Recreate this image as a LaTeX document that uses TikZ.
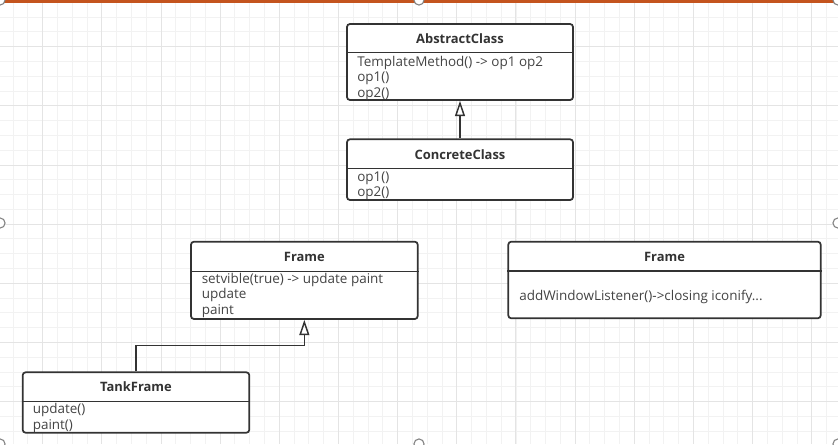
\documentclass[tikz,border=0pt]{standalone}
\usepackage{fontspec}
\setmainfont{Open Sans}
\usetikzlibrary{arrows.meta, fit, calc}

\definecolor{boxcol}{HTML}{333333}
\definecolor{opscol}{HTML}{444444}
\definecolor{gridminor}{HTML}{F2F2F2}
\definecolor{gridmajor}{HTML}{E4E4E4}
\definecolor{selcol}{RGB}{196,84,30}

\tikzset{
  classbox/.style={draw=boxcol, line width=1.3pt, rounded corners=2.2pt, fill=white, inner sep=0pt},
  divider/.style={draw=boxcol, line width=1.1pt},
  classname/.style={font=\bfseries\fontsize{9.7}{11}\selectfont, text=boxcol, inner sep=0pt, anchor=base},
  classops/.style={font=\fontsize{10.1}{11.6}\selectfont, text=opscol, inner sep=0pt, anchor=base west, align=left},
  inherit/.style={draw=boxcol, line width=1.1pt, -{Triangle[open, length=11.5pt, width=7.5pt]}},
  handle/.style={draw=gray, fill=white, line width=0.8pt},
}

\begin{document}
\begin{tikzpicture}[x=0.75pt, y=-0.75pt]
    \useasboundingbox (0,0) rectangle (838,444);
    % background grid
    \foreach \i in {0,...,56} \draw[gridminor, line width=0.7pt] ({13.1+14.79*\i},0) -- ({13.1+14.79*\i},444);
    \foreach \i in {0,...,30} \draw[gridminor, line width=0.7pt] (0,{2.3+14.79*\i}) -- (838,{2.3+14.79*\i});
    \foreach \i in {0,...,13} \draw[gridmajor, line width=0.7pt] ({42.7+59.15*\i},0) -- ({42.7+59.15*\i},444);
    \foreach \i in {0,...,7} \draw[gridmajor, line width=0.7pt] (0,{46.7+59.15*\i}) -- (838,{46.7+59.15*\i});
    \fill[selcol] (0,0) rectangle (838,3);

    % template method classes (ops nodes sit on the baseline of their last line)
    \node[classbox, fit={(347,24) (573,100)}] (abs) {};
    \draw[divider] (abs.west |- 0,52.7) -- (abs.east |- 0,52.7);
    \node[classname] (absname) at (abs.north |- 0,43.3) {AbstractClass};
    \node[classops] (absops) at (357,97) {TemplateMethod() -> op1 op2\\op1()\\op2()};

    \node[classbox, fit={(347,139.3) (573,200)}] (con) {};
    \draw[divider] (con.west |- 0,168.3) -- (con.east |- 0,168.3);
    \node[classname] (conname) at (con.north |- 0,159) {ConcreteClass};
    \node[classops] (conops) at (357,196.7) {op1()\\op2()};

    \draw[inherit] (con.north) -- (abs.south);

    % awt frames
    \node[classbox, fit={(191,241.7) (417.7,319)}] (frame) {};
    \draw[divider] (frame.west |- 0,271.7) -- (frame.east |- 0,271.7);
    \node[classname] (framename) at (frame.north |- 0,261) {Frame};
    \node[classops] (frameops) at (201.5,314.3) {setvible(true) -> update paint\\update\\paint};

    \node[classbox, fit={(22.7,372.3) (249.3,432.7)}] (tank) {};
    \draw[divider] (tank.west |- 0,401.7) -- (tank.east |- 0,401.7);
    \node[classname] (tankname) at (tank.north |- 0,391.7) {TankFrame};
    \node[classops] (tankops) at (32.5,429) {update()\\paint()};

    \draw[inherit] (tank.north) |- ($(tank.north)!0.5!(frame.south)$) -| (frame.south);

    \node[classbox, fit={(508.3,241.7) (820.7,318.3)}] (listen) {};
    \draw[divider] (listen.west |- 0,271) -- (listen.east |- 0,271);
    \node[classname] (listenname) at (listen.north |- 0,261.7) {Frame};
    \node[classops] (listenops) at (519,300) {addWindowListener()->closing iconify...};

    % selection handles
    \foreach \p in {(0,0),(419,0),(838,0),(0,223),(838,223),(0,444),(419,444),(838,444)}
        \draw[handle] \p circle[radius=3.8pt];
\end{tikzpicture}
\end{document}
